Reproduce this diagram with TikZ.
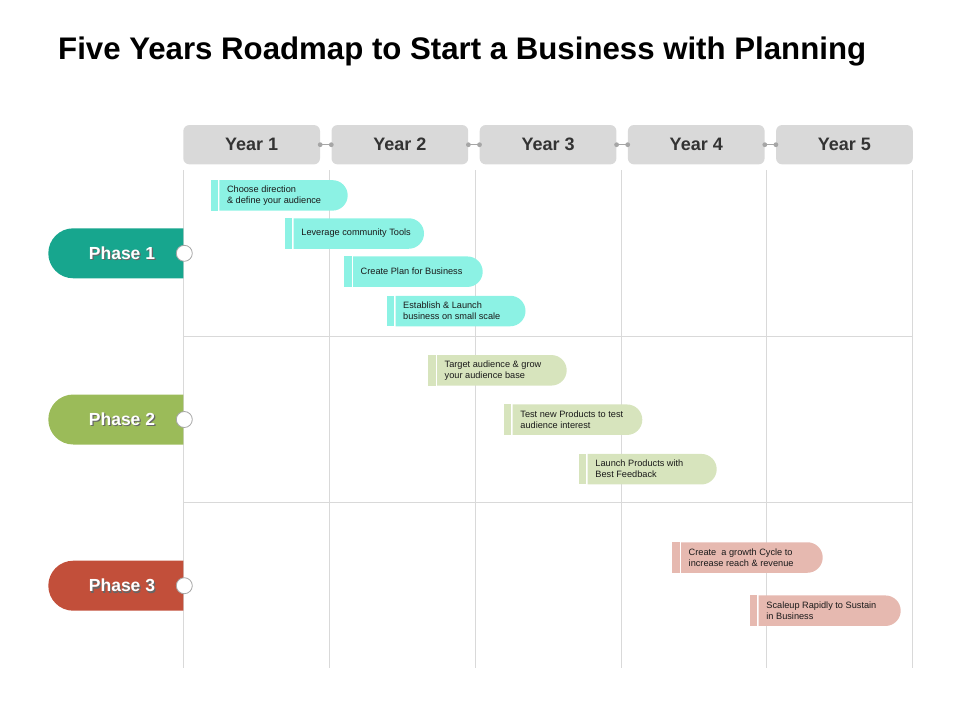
\documentclass[tikz,border=0pt]{standalone}
\usepackage{fontspec}
\setmainfont{Liberation Sans}
\usepackage{xcolor}
\usepackage{tikz}

\definecolor{phaseA}{HTML}{17A68E}
\definecolor{phaseB}{HTML}{9BBB59}
\definecolor{phaseC}{HTML}{C24F3A}
\definecolor{taskA}{HTML}{8CF2E4}
\definecolor{taskB}{HTML}{D7E4BD}
\definecolor{taskC}{HTML}{E6B9B0}
\definecolor{headgray}{HTML}{D9D9D9}
\definecolor{gridgray}{HTML}{D9D9D9}
\definecolor{linkgray}{HTML}{A6A6A6}
\definecolor{yeartext}{HTML}{333333}
\definecolor{tasktextc}{HTML}{1A1A1A}

\begin{document}
\begin{tikzpicture}[x=1pt, y=-1pt,
		gridline/.style={draw=gridgray, line width=0.9pt},
		yearbox/.style={fill=headgray, rounded corners=6pt, minimum width=136.7pt, minimum height=39.3pt, inner sep=0pt, text=yeartext, font=\fontsize{18}{20}\selectfont\bfseries},
		yearlink/.style={draw=linkgray, line width=1pt},
		phasetext/.style={text=white, inner sep=0pt, font=\fontsize{17.5}{20}\selectfont\bfseries},
		phaseshadow/.style={phasetext, text=black!60},
		phasedot/.style={circle, fill=white, draw=gray!70, line width=0.8pt, minimum size=16pt, inner sep=0pt},
		tasktext/.style={anchor=west, align=left, inner xsep=7.5pt, inner ysep=0pt, text=tasktextc, font=\fontsize{9.2}{11}\selectfont}
	]
		\useasboundingbox (0,0) rectangle (960,720);

		\node [anchor=base west, inner sep=0pt, font=\fontsize{31.2}{36}\selectfont\bfseries] (title) at (58,59.5) {Five Years Roadmap to Start a Business with Planning};

		\draw [gridline] (183.3,170) -- (183.3,668);
		\draw [gridline] (329.1,170) -- (329.1,668);
		\draw [gridline] (475,170) -- (475,668);
		\draw [gridline] (621,170) -- (621,668);
		\draw [gridline] (766.8,170) -- (766.8,668);
		\draw [gridline] (912.4,170) -- (912.4,668);
		\draw [gridline] (183.3,336) -- (912.4,336);
		\draw [gridline] (183.3,502) -- (912.4,502);

		\node [yearbox] (y1) at (251.65,144.7) {Year 1};
		\node [yearbox] (y2) at (399.85,144.7) {Year 2};
		\node [yearbox] (y3) at (548.05,144.7) {Year 3};
		\node [yearbox] (y4) at (696.25,144.7) {Year 4};
		\node [yearbox] (y5) at (844.45,144.7) {Year 5};

		\draw (y1.east) [yearlink]-- (y2.west);
		\draw (y2.east) [yearlink]-- (y3.west);
		\draw (y3.east) [yearlink]-- (y4.west);
		\draw (y4.east) [yearlink]-- (y5.west);
		\fill [linkgray] (y1.east) circle [radius=2.4] (y2.west) circle [radius=2.4];
		\fill [linkgray] (y2.east) circle [radius=2.4] (y3.west) circle [radius=2.4];
		\fill [linkgray] (y3.east) circle [radius=2.4] (y4.west) circle [radius=2.4];
		\fill [linkgray] (y4.east) circle [radius=2.4] (y5.west) circle [radius=2.4];

		\fill [phaseA] (183.3,228.3) -- (73.3,228.3) arc [start angle=-90, end angle=-270, radius=25] -- (183.3,278.3) -- cycle;
		\node [phaseshadow] at (123.2,254.5) {Phase 1};
		\node [phasetext] (p1) at (122,253.3) {Phase 1};
		\node [phasedot] (d1) at (184.3,253.3) {};

		\fill [phaseB] (183.3,394.5) -- (73.3,394.5) arc [start angle=-90, end angle=-270, radius=25] -- (183.3,444.5) -- cycle;
		\node [phaseshadow] at (123.2,420.7) {Phase 2};
		\node [phasetext] (p2) at (122,419.5) {Phase 2};
		\node [phasedot] (d2) at (184.3,419.5) {};

		\fill [phaseC] (183.3,560.7) -- (73.3,560.7) arc [start angle=-90, end angle=-270, radius=25] -- (183.3,610.7) -- cycle;
		\node [phaseshadow] at (123.2,586.9) {Phase 3};
		\node [phasetext] (p3) at (122,585.7) {Phase 3};
		\node [phasedot] (d3) at (184.3,585.7) {};

		\fill [taskA] (210.6,180.15) rectangle (217.8,210.65);
		\fill [taskA] (219.3,180.15) -- (332.45,180.15) arc [start angle=-90, end angle=90, radius=15.25] -- (219.3,210.65) -- cycle;
		\node [tasktext] (t1) at (219.3,195.4) {Choose direction\\\& define your audience};

		\fill [taskA] (285,218.25) rectangle (292.2,248.75);
		\fill [taskA] (293.7,218.25) -- (408.75,218.25) arc [start angle=-90, end angle=90, radius=15.25] -- (293.7,248.75) -- cycle;
		\node [tasktext] (t2) at (293.7,233.5) {Leverage community Tools};

		\fill [taskA] (344.3,256.45) rectangle (351.5,286.95);
		\fill [taskA] (353,256.45) -- (467.45,256.45) arc [start angle=-90, end angle=90, radius=15.25] -- (353,286.95) -- cycle;
		\node [tasktext] (t3) at (353,271.7) {Create Plan for Business};

		\fill [taskA] (386.8,295.75) rectangle (394,326.25);
		\fill [taskA] (395.5,295.75) -- (510.25,295.75) arc [start angle=-90, end angle=90, radius=15.25] -- (395.5,326.25) -- cycle;
		\node [tasktext] (t4) at (395.5,311) {Establish \& Launch\\business on small scale};

		\fill [taskB] (428.3,355.05) rectangle (435.5,385.55);
		\fill [taskB] (437,355.05) -- (551.45,355.05) arc [start angle=-90, end angle=90, radius=15.25] -- (437,385.55) -- cycle;
		\node [tasktext] (t5) at (437,370.3) {Target audience \& grow\\your audience base};

		\fill [taskB] (504,404.45) rectangle (511.2,434.95);
		\fill [taskB] (512.7,404.45) -- (627.05,404.45) arc [start angle=-90, end angle=90, radius=15.25] -- (512.7,434.95) -- cycle;
		\node [tasktext] (t6) at (512.7,419.7) {Test new Products to test\\audience interest};

		\fill [taskB] (579,453.95) rectangle (586.2,484.45);
		\fill [taskB] (587.7,453.95) -- (701.45,453.95) arc [start angle=-90, end angle=90, radius=15.25] -- (587.7,484.45) -- cycle;
		\node [tasktext] (t7) at (587.7,469.2) {Launch Products with\\Best Feedback};

		\fill [taskC] (672.3,542.25) rectangle (679.5,572.75);
		\fill [taskC] (681,542.25) -- (807.45,542.25) arc [start angle=-90, end angle=90, radius=15.25] -- (681,572.75) -- cycle;
		\node [tasktext] (t8) at (681,557.5) {Create~ a growth Cycle to\\increase reach \& revenue};

		\fill [taskC] (750,595.45) rectangle (757.2,625.95);
		\fill [taskC] (758.7,595.45) -- (885.45,595.45) arc [start angle=-90, end angle=90, radius=15.25] -- (758.7,625.95) -- cycle;
		\node [tasktext] (t9) at (758.7,610.7) {Scaleup Rapidly to Sustain\\in Business};
	\end{tikzpicture}
\end{document}
